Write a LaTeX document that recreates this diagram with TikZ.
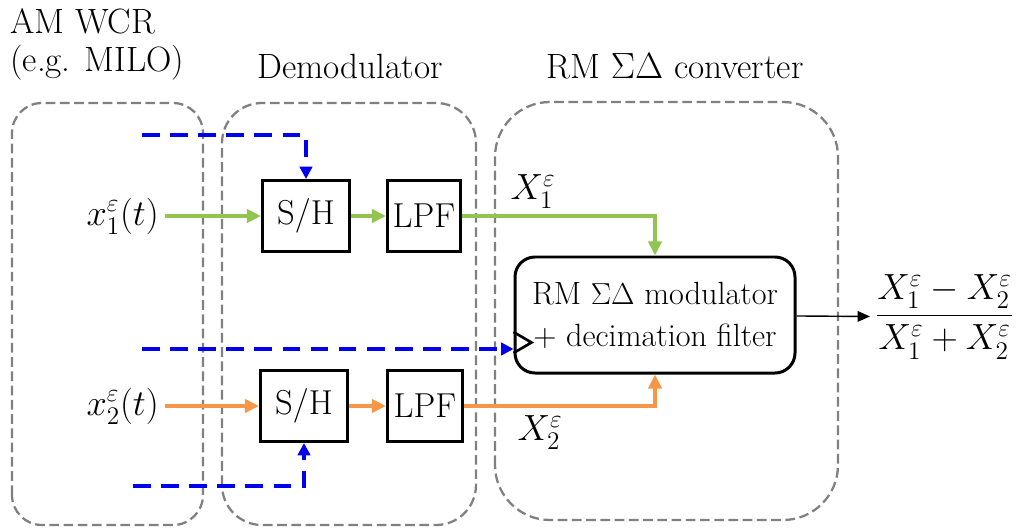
\documentclass[tikz,border=0pt]{standalone}
\usepackage{amsmath}
\usepackage{fontspec}
\usetikzlibrary{arrows.meta}
\definecolor{sigA}{RGB}{146,196,80}
\definecolor{sigB}{RGB}{247,150,70}
\definecolor{clk}{RGB}{0,0,240}
\definecolor{frame}{RGB}{128,128,128}
\begin{document}
\begin{tikzpicture}[font=\fontsize{20}{22}\selectfont,
  blk/.style={draw,line width=1.7pt,minimum height=1.42cm,inner sep=0pt,font=\fontsize{19.7}{22}\selectfont},
  lbl/.style={font=\fontsize{20}{24}\selectfont},
  grp/.style={draw=frame,line width=1.3pt,dash pattern=on 5.5pt off 2.6pt},
  clkline/.style={draw=clk,line width=2pt,dash pattern=on 10pt off 6pt,-{Triangle[length=7pt,width=7pt]}},
  sig/.style={line width=2pt,-{Triangle[length=8pt,width=7.5pt]}}]
\useasboundingbox (0,0) rectangle (20.64,10.58);
% groups
\draw [grp,rounded corners=0.6cm] (0.24,0.08) rectangle (4.06,8.52);
\draw [grp,rounded corners=0.8cm] (4.44,0.08) rectangle (9.52,8.52);
\draw [grp,rounded corners=1.1cm] (9.90,0.18) rectangle (16.76,8.54);
\node [anchor=north west,align=left,inner sep=0pt] (wcr) at (0.2,10.42) {AM WCR\\(e.g. MILO)};
\node (demod) at (7.0,9.26) {Demodulator};
\node (conv) at (13.5,9.26) {RM $\Sigma\Delta$ converter};
% blocks
\node [blk,minimum width=1.74cm] (sh1) at (6.12,6.26) {S/H};
\node [blk,minimum width=1.46cm] (lpf1) at (8.48,6.26) {LPF};
\node [blk,minimum width=1.74cm] (sh2) at (6.08,2.46) {S/H};
\node [blk,minimum width=1.5cm] (lpf2) at (8.5,2.46) {LPF};
\node [blk,rounded corners=0.4cm,minimum width=5.6cm,minimum height=2.32cm,align=center,
  font=\fontsize{18.3}{24}\selectfont] (mod) at (13.1,4.28) {RM $\Sigma\Delta$ modulator\\+ decimation filter};
% inputs and outputs
\node [lbl,anchor=east] (x1) at (3.3,6.26) {$x_1^\varepsilon(t)$};
\node [lbl,anchor=east] (x2) at (3.3,2.46) {$x_2^\varepsilon(t)$};
\node [lbl] (X1) at (10.66,6.74) {$X_1^\varepsilon$};
\node [lbl] (X2) at (10.8,1.92) {$X_2^\varepsilon$};
\node [lbl,anchor=west,inner sep=0.1cm] (ratio) at (17.4,4.24) {$\dfrac{X_1^\varepsilon-X_2^\varepsilon}{X_1^\varepsilon+X_2^\varepsilon}$};
\draw [sig,sigA] (x1) -- (sh1);
\draw [sig,sigA] (sh1) -- (lpf1);
\draw [sig,sigA] (lpf1) -| (mod);
\draw [sig,sigB] (x2) -- (sh2);
\draw [sig,sigB] (sh2) -- (lpf2);
\draw [sig,sigB] (lpf2) -| (mod);
\draw [line width=0.8pt,-{Triangle[length=7pt,width=6pt]}] (mod) -- (ratio);
% clocks
\coordinate (ck1) at (2.84,7.88);
\coordinate (ck2) at (2.84,3.6);
\coordinate (ck3) at (2.66,0.86);
\draw [clkline] (ck1) -| (sh1);
\draw [clkline] (ck2) -- (ck2 -| mod.west);
\draw [clkline] (ck3) -| (sh2);
\draw [line width=1.5pt] (mod.west |- 0,3.94) -- ++(0.36,-0.21) -- ++(-0.36,-0.21);
\end{tikzpicture}
\end{document}
